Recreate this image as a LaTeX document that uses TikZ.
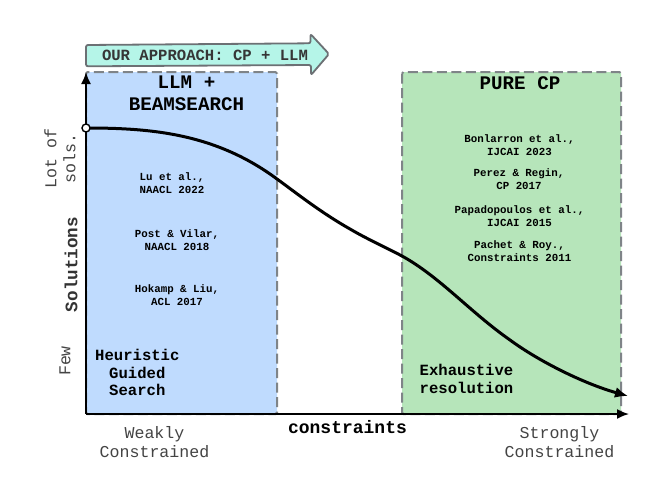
\documentclass[tikz,border=0pt]{standalone}
\usepackage{fontspec}
\setmainfont{Liberation Mono}
\usetikzlibrary{arrows.meta}
\definecolor{bluebox}{HTML}{BFDBFE}
\definecolor{greenbox}{HTML}{B6E5BA}
\definecolor{mintbox}{HTML}{B5F5E8}
\definecolor{dashgray}{HTML}{7F8488}
\definecolor{txtgray}{HTML}{444444}
\tikzset{
  x=1pt,y=-1pt,
  zone/.style={draw=dashgray,line width=2pt,dash pattern=on 10pt off 4.5pt,rounded corners=1.5pt},
  refs/.style={align=center,font=\fontsize{10.8}{13.5}\selectfont\bfseries,inner sep=0pt,text=black},
  tag/.style={align=left,font=\fontsize{15.6}{17.6}\selectfont\bfseries,inner sep=0pt,text=black},
  head/.style={align=center,font=\fontsize{19.2}{22}\selectfont\bfseries,inner sep=0pt,text=black},
  axlab/.style={align=center,font=\fontsize{16.6}{19}\selectfont,inner sep=0pt,text=txtgray},
  axis/.style={line width=1.8pt,-{Latex[length=12pt,width=10pt]}},
}
\begin{document}
\begin{tikzpicture}
\useasboundingbox (0,0) rectangle (664,490);
\fill[white] (0,0) rectangle (664,490);
\path[zone,fill=bluebox] (86,72) rectangle (277,414);
\path[zone,fill=greenbox] (402,72) rectangle (621,414);
\draw[draw=dashgray!85!black,line width=1.8pt,fill=mintbox,rounded corners=2pt,line join=round]
  (86,45) -- (310.5,43.3) -- (310.5,34) -- (329,54) -- (311,75) -- (311,65) -- (86,66.3) -- cycle;
\node[inner sep=0pt,text=txtgray!80!black,font=\fontsize{15.6}{18}\selectfont\bfseries] (approachlabel) at (205,55.5) {OUR APPROACH: CP + LLM};
\coordinate (origin) at (86,414);
\coordinate (ytop) at (86,72);
\coordinate (xend) at (629,414);
\draw[axis] (origin) -- (ytop);
\draw[axis] (origin) -- (xend);
\coordinate (curvestart) at (86,128);
\coordinate (curveend) at (628,396);
\draw[line width=3pt,-{Latex[length=13pt,width=11pt]}] (curvestart)
  .. controls (150,128) and (215,133) .. (277,179)
  .. controls (295,192) and (320,212) .. (350,229)
  .. controls (367,239) and (385,247) .. (402,256)
  .. controls (440,277) and (470,312) .. (510,340)
  .. controls (540,362) and (585,384) .. (curveend);
\node[circle,draw=black,fill=white,line width=1.4pt,minimum size=8pt,inner sep=0pt] (startdot) at (curvestart) {};
\node[head] (h1) at (186.5,93.5) {LLM +\\BEAMSEARCH};
\node[head] (h2) at (520,83) {PURE CP};
\node[refs] (r1) at (172,183) {Lu et al.,\\NAACL 2022};
\node[refs] (r2) at (177,240) {Post \& Vilar,\\NAACL 2018};
\node[refs] (r3) at (177,295) {Hokamp \& Liu,\\ACL 2017};
\node[refs] (r4) at (519.5,145) {Bonlarron et al.,\\IJCAI 2023};
\node[refs] (r5) at (519,179) {Perez \& Regin,\\CP 2017};
\node[refs] (r6) at (519.5,216) {Papadopoulos et al.,\\IJCAI 2015};
\node[refs] (r7) at (519.5,251) {Pachet \& Roy.,\\Constraints 2011};
\node[tag,anchor=north west] (t1) at (95,349) {Heuristic\\\hspace*{14pt}Guided\\\hspace*{14pt}Search};
\node[tag,anchor=north west] (t2) at (419.5,364) {Exhaustive\\resolution};
\node[axlab] (weak) at (154.5,442) {Weakly\\Constrained};
\node[axlab] (strong) at (559.5,442) {Strongly\\Constrained};
\node[inner sep=0pt,font=\fontsize{18}{20}\selectfont\bfseries] (cons) at (347.5,427) {constraints};
\node[axlab,rotate=90] (lot) at (60,158.5) {Lot of\\sols.};
\node[inner sep=0pt,rotate=90,font=\fontsize{17.6}{20}\selectfont\bfseries,text=black!80] (sol) at (71,264.5) {Solutions};
\node[axlab,rotate=90] (few) at (65,361) {Few};
\end{tikzpicture}
\end{document}
